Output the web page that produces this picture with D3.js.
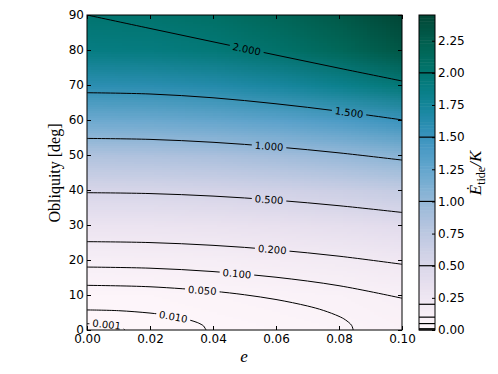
<!DOCTYPE html>
<html>
<head>
<meta charset="utf-8">
<script src="https://cdn.jsdelivr.net/npm/d3@7"></script>
<style>
  body { margin: 0; background: #fff; }
  svg { display: block; }
</style>
</head>
<body>
<svg id="chart" width="498" height="374"></svg>
<script>
"use strict";

// grid of the heating field (rows = obliquity, cols = e)
const eccentricity = [0, 0.02, 0.04, 0.06, 0.08, 0.10];
const obliquity = [0, 10, 20, 30, 40, 50, 60, 70, 80, 90];
const heating = [
    [0.000, 0.003, 0.011, 0.025, 0.045, 0.070],
    [0.031, 0.034, 0.043, 0.058, 0.079, 0.106],
    [0.124, 0.127, 0.139, 0.158, 0.184, 0.218],
    [0.286, 0.291, 0.306, 0.330, 0.365, 0.410],
    [0.521, 0.528, 0.548, 0.582, 0.629, 0.690],
    [0.831, 0.840, 0.867, 0.913, 0.976, 1.058],
    [1.200, 1.212, 1.248, 1.307, 1.391, 1.498],
    [1.581, 1.596, 1.640, 1.714, 1.818, 1.952],
    [1.883, 1.900, 1.951, 2.037, 2.157, 2.311],
    [2.000, 2.018, 2.072, 2.162, 2.288, 2.450]
];

// contour levels and the traced lines ([e, obliquity] pairs)
const levels = [0.001, 0.01, 0.05, 0.1, 0.2, 0.5, 1.0, 1.5, 2.0];
const levelNames = ["0.001", "0.010", "0.050", "0.100", "0.200", "0.500", "1.000", "1.500", "2.000"];
const contourLines = [
    [[0, 1.81], [0.005, 1.65], [0.008, 1.35], [0.010, 0.99], [0.011, 0.71], [0.0115, 0.49], [0.01195, 0]],
    [[0, 5.73], [0.01, 5.52], [0.02, 4.84], [0.025, 4.27], [0.03, 3.46], [0.035, 2.14], [0.0365, 1.47], [0.037, 1.16], [0.0378, 0]],
    [[0, 12.76], [0.02, 12.35], [0.04, 11.08], [0.05, 10.07], [0.06, 8.71], [0.07, 6.86], [0.075, 5.61], [0.08, 3.90], [0.082, 2.92], [0.084, 1.33], [0.0845, 0]],
    [[0, 17.98], [0.02, 17.66], [0.04, 16.70], [0.06, 15.08], [0.08, 12.66], [0.10, 9.08]],
    [[0, 25.24], [0.02, 24.98], [0.04, 24.19], [0.06, 22.89], [0.08, 21.09], [0.10, 18.78]],
    [[0, 39.23], [0.02, 38.98], [0.04, 38.26], [0.06, 37.09], [0.08, 35.51], [0.10, 33.59]],
    [[0, 54.74], [0.02, 54.46], [0.04, 53.63], [0.06, 52.33], [0.08, 50.61], [0.10, 48.55]],
    [[0, 67.79], [0.02, 67.43], [0.04, 66.35], [0.06, 64.63], [0.08, 62.51], [0.10, 60.04]],
    [[0, 90.00], [0.02, 86.16], [0.04, 82.34], [0.06, 78.55], [0.08, 74.81], [0.10, 71.15]]
];
// where the inline labels sit
const labelSpots = [
    [0.00625, 1.55], [0.0274, 3.8], [0.0366, 11.3], [0.0476, 16.1], [0.0588, 23.0],
    [0.0578, 37.25], [0.0578, 52.5], [0.0832, 62.15], [0.0507, 80.25]
];

const xTicks = [0, 0.02, 0.04, 0.06, 0.08, 0.10];
const yTicks = [0, 10, 20, 30, 40, 50, 60, 70, 80, 90];
const cbarTicks = [0, 0.25, 0.5, 0.75, 1.0, 1.25, 1.5, 1.75, 2.0, 2.25];
const cbarMax = 2.45;

const x = d3.scaleLinear().domain([0, 0.1]).range([87, 402]);
const y = d3.scaleLinear().domain([0, 90]).range([330, 15]);
const color = d3.scaleSequential(d3.interpolatePuBuGn).domain([0, cbarMax]);

const svg = d3.select("#chart");
const defs = svg.append("defs");
defs.append("clipPath").attr("id", "plotClip")
    .append("rect").attr("x", 87).attr("y", 15).attr("width", 315).attr("height", 315);

// field as a tiny image, upscaled smoothly by the browser
let cv = document.createElement("canvas");
cv.width = eccentricity.length;
cv.height = obliquity.length;
let ctx = cv.getContext("2d");
let img = ctx.createImageData(cv.width, cv.height);
obliquity.forEach((ob, j) => {
    let row = obliquity.length - 1 - j;
    eccentricity.forEach((ec, i) => {
        let c = d3.rgb(color(heating[j][i]));
        let k = (row * cv.width + i) * 4;
        img.data[k] = c.r;
        img.data[k + 1] = c.g;
        img.data[k + 2] = c.b;
        img.data[k + 3] = 255;
    });
});
ctx.putImageData(img, 0, 0);
let cw = x(0.02) - x(0), ch = y(0) - y(10);
svg.append("g").attr("clip-path", "url(#plotClip)")
    .append("image")
    .attr("href", cv.toDataURL())
    .attr("x", x(0) - cw / 2).attr("y", y(90) - ch / 2)
    .attr("width", cw * eccentricity.length).attr("height", ch * obliquity.length)
    .attr("preserveAspectRatio", "none");

// contour lines with gaps for labels
let mask = defs.append("mask").attr("id", "labelGaps")
    .attr("maskUnits", "userSpaceOnUse")
    .attr("x", 0).attr("y", 0).attr("width", 498).attr("height", 374);
mask.append("rect").attr("width", 498).attr("height", 374).attr("fill", "white");

let line = d3.line()
    .x(d => x(d[0]))
    .y(d => y(d[1]))
    .curve(d3.curveCatmullRom.alpha(0.5));

svg.append("g")
    .attr("clip-path", "url(#plotClip)")
    .append("g")
    .attr("mask", "url(#labelGaps)")
    .selectAll("path")
    .data(contourLines)
    .enter().append("path")
    .attr("d", line)
    .attr("fill", "none")
    .attr("stroke", "#000")
    .attr("stroke-width", 1);

function slopeAngle(pts, e) {
    let i = 1;
    while (i < pts.length - 1 && pts[i][0] < e) i++;
    let p1 = pts[i - 1], p2 = pts[i];
    return Math.atan2(y(p2[1]) - y(p1[1]), x(p2[0]) - x(p1[0])) * 180 / Math.PI;
}

let labels = svg.append("g")
    .attr("font-family", "DejaVu Sans")
    .attr("font-size", 10)
    .attr("fill", "#000");
labelSpots.forEach((spot, k) => {
    let px = x(spot[0]), py = y(spot[1]);
    let ang = slopeAngle(contourLines[k], spot[0]);
    let t = labels.append("text")
        .attr("transform", `translate(${px},${py}) rotate(${ang})`)
        .attr("text-anchor", "middle")
        .attr("dy", "0.36em")
        .text(levelNames[k]);
    let w = t.node().getComputedTextLength() + 6;
    mask.append("rect")
        .attr("x", -w / 2).attr("y", -6)
        .attr("width", w).attr("height", 12)
        .attr("transform", `translate(${px},${py}) rotate(${ang})`)
        .attr("fill", "black");
});

// axes (inward ticks all round)
let tickFont = g => g.attr("font-family", "DejaVu Sans").attr("font-size", 12);
let cleanup = g => {
    g.select(".domain").remove();
    g.selectAll(".tick line").attr("stroke", "#000");
    g.selectAll(".tick text").attr("fill", "#000");
};

svg.append("g").attr("transform", "translate(0,330)")
    .call(d3.axisBottom(x).tickValues(xTicks).tickFormat(d3.format(".2f")).tickSize(-4).tickPadding(4))
    .call(tickFont).call(cleanup);
svg.append("g").attr("transform", "translate(0,15)")
    .call(d3.axisTop(x).tickValues(xTicks).tickFormat("").tickSize(-4))
    .call(cleanup);
svg.append("g").attr("transform", "translate(87,0)")
    .call(d3.axisLeft(y).tickValues(yTicks).tickFormat(d3.format("d")).tickSize(-4).tickPadding(3))
    .call(tickFont).call(cleanup);
svg.append("g").attr("transform", "translate(402,0)")
    .call(d3.axisRight(y).tickValues(yTicks).tickFormat("").tickSize(-4))
    .call(cleanup);

svg.append("rect")
    .attr("x", 87).attr("y", 15).attr("width", 315).attr("height", 315)
    .attr("fill", "none").attr("stroke", "#000").attr("stroke-width", 1);

// axis titles
svg.append("text")
    .attr("transform", "translate(59.5,173) rotate(-90)")
    .attr("text-anchor", "middle")
    .attr("font-family", "Liberation Serif")
    .attr("font-size", 16)
    .text("Obliquity [deg]");
svg.append("text")
    .attr("x", 244).attr("y", 361.5)
    .attr("text-anchor", "middle")
    .attr("font-family", "Liberation Serif")
    .attr("font-style", "italic")
    .attr("font-size", 17)
    .text("e");

// colorbar
let cy = d3.scaleLinear().domain([0, cbarMax]).range([330, 15]);
let cbar = svg.append("g");
let nBands = 100;
let bands = d3.range(nBands).map(k => [k * cbarMax / nBands, (k + 1) * cbarMax / nBands]);
cbar.selectAll("rect.band")
    .data(bands)
    .enter().append("rect")
    .attr("class", "band")
    .attr("x", 419).attr("width", 16)
    .attr("y", d => cy(d[1]))
    .attr("height", d => cy(d[0]) - cy(d[1]) + 0.5)
    .attr("fill", d => color((d[0] + d[1]) / 2));
cbar.selectAll("line.lvl")
    .data(levels)
    .enter().append("line")
    .attr("class", "lvl")
    .attr("x1", 419).attr("x2", 435)
    .attr("y1", d => cy(d)).attr("y2", d => cy(d))
    .attr("stroke", "#000").attr("stroke-width", 1.2);
cbar.append("rect")
    .attr("x", 419).attr("y", 15).attr("width", 16).attr("height", 315)
    .attr("fill", "none").attr("stroke", "#000").attr("stroke-width", 1);
svg.append("g").attr("transform", "translate(435,0)")
    .call(d3.axisRight(cy).tickValues(cbarTicks).tickFormat(d3.format(".2f")).tickSize(-3).tickPadding(3))
    .call(tickFont).call(cleanup);

let cl = svg.append("text")
    .attr("transform", "translate(481,173) rotate(-90)")
    .attr("text-anchor", "middle")
    .attr("font-family", "Liberation Serif")
    .attr("font-size", 17);
cl.append("tspan").attr("font-style", "italic").text("\u0116");
cl.append("tspan").attr("font-size", 12).attr("dy", 4).text("tide");
cl.append("tspan").attr("font-style", "italic").attr("dy", -4).text("/K");
</script>
</body>
</html>
